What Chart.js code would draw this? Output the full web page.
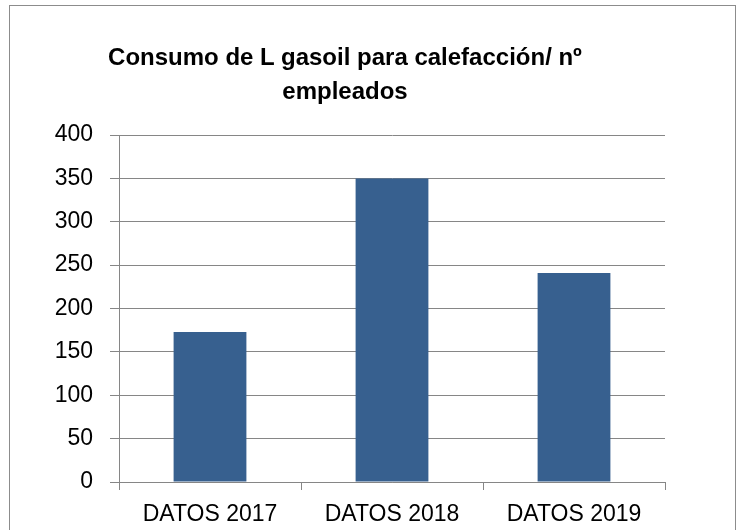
<!DOCTYPE html>
<html>
<head>
<meta charset="utf-8">
<script src="https://cdn.jsdelivr.net/npm/chart.js@4/dist/chart.umd.min.js"></script>
<style>
  html, body { margin: 0; padding: 0; background: #ffffff; }
  #wrap { position: relative; width: 745px; height: 530px; overflow: hidden; }
  #frame { position: absolute; left: 9px; top: 5px; width: 727px; height: 560px; border: 1px solid #8c8c8c; box-sizing: border-box; }
  #title { position: absolute; left: 45px; width: 600px; top: 40px; text-align: center;
           font-family: "Liberation Sans Narrow", "Liberation Sans", sans-serif; font-weight: bold;
           font-size: 24px; line-height: 34px; color: #000; }
  #c { position: absolute; left: 0; top: 0; }
</style>
</head>
<body>
<div id="wrap">
  <div id="frame"></div>
  <canvas id="c" width="745" height="530"></canvas>
  <div id="title">Consumo de L gasoil para calefacción/ nº<br>empleados</div>
</div>
<script>
const categories = ["DATOS 2017", "DATOS 2018", "DATOS 2019"];
const values = [173, 350, 241];
const yTicks = [0, 50, 100, 150, 200, 250, 300, 350, 400];

const gridColor = '#868686';
const tickFont = { family: '"Liberation Sans", Arial, sans-serif', size: 23 };

new Chart(document.getElementById('c'), {
  type: 'bar',
  data: {
    labels: categories,
    datasets: [{
      data: values,
      backgroundColor: '#37608f',
      borderWidth: 0,
      categoryPercentage: 1.0,
      barPercentage: 0.4
    }]
  },
  options: {
    responsive: false,
    animation: false,
    devicePixelRatio: 1,
    layout: { padding: { top: 135, right: 80, left: 0, bottom: 0 } },
    plugins: { legend: { display: false }, title: { display: false }, tooltip: { enabled: false } },
    scales: {
      x: {
        grid: { display: true, drawOnChartArea: false, drawTicks: true, tickLength: 8, color: gridColor, lineWidth: 1, offset: true },
        border: { display: true, color: gridColor, width: 1 },
        ticks: { font: tickFont, color: '#000', padding: 11, maxRotation: 0 },
        afterFit: (s) => { s.height = 48; }
      },
      y: {
        min: 0, max: 400,
        afterBuildTicks: (s) => { s.ticks = yTicks.map(v => ({ value: v })); },
        grid: { color: gridColor, lineWidth: 1, tickLength: 9, drawTicks: true },
        border: { display: true, color: gridColor, width: 1 },
        ticks: { font: tickFont, color: '#000', padding: 17 },
        afterFit: (s) => { s.width = 119; }
      }
    }
  }
});
</script>
</body>
</html>
